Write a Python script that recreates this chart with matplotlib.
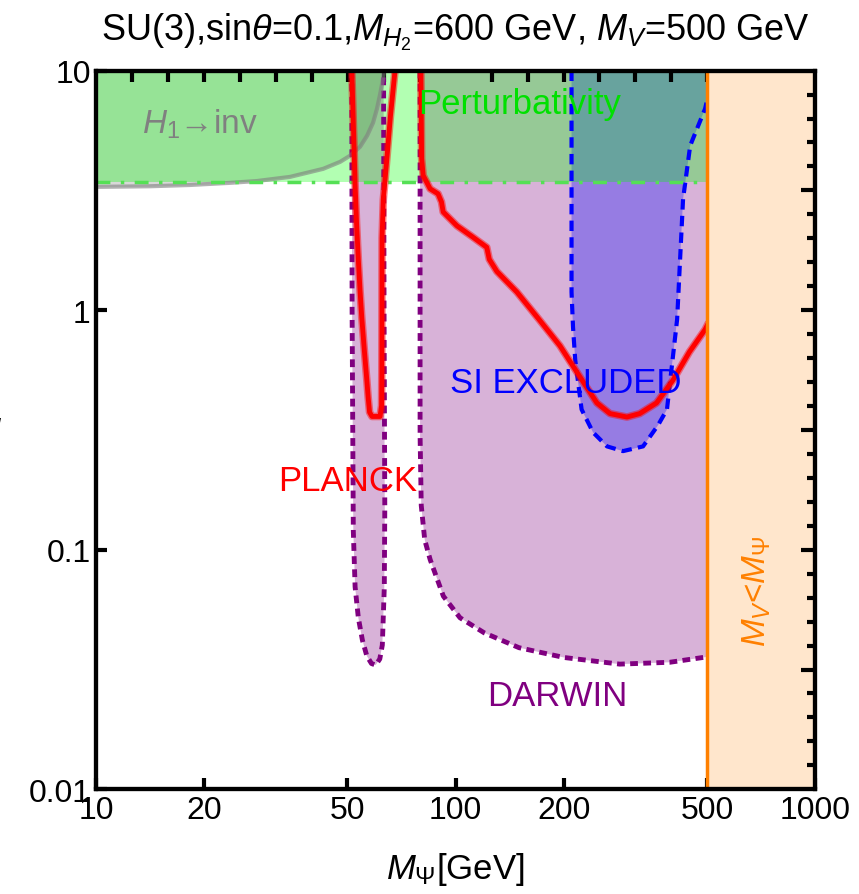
import numpy as np
import matplotlib.pyplot as plt
from matplotlib.ticker import FixedLocator, NullFormatter, NullLocator

plt.rcParams['font.family'] = ['Liberation Sans', 'DejaVu Sans']
plt.rcParams['mathtext.fontset'] = 'custom'
plt.rcParams['mathtext.rm'] = 'Liberation Sans'
plt.rcParams['mathtext.it'] = 'Liberation Sans:italic'

# perturbativity bound
pert_y = 3.44

# H1 -> inv boundary
h1_x = [10, 14.1, 18.2, 23.6, 28, 34.6, 42.8, 47.7, 50.8, 54.2, 56.7, 58.9, 60.4, 61.6, 62.8, 63.2]
h1_y = [3.27, 3.29, 3.33, 3.40, 3.46, 3.60, 3.89, 4.16, 4.41, 4.81, 5.35, 6.06, 6.93, 7.94, 9.26, 10]

# DARWIN reach, narrow well near the Higgs pole
well_x = [51.4, 51.5, 51.9, 52.5, 53.6, 55.0, 56.6, 58.3, 59.9, 61.5, 62.5, 63.3, 63.5, 63.2, 63.0]
well_y = [10, 1.0, 0.12, 0.07, 0.052, 0.042, 0.036, 0.0335, 0.033, 0.035, 0.04, 0.07, 0.15, 1.0, 10]

# DARWIN reach, main region
darw_x = [79.6, 79.6, 80.2, 82.0, 84.9, 92.4, 102.8, 120, 150, 200, 286, 394, 500]
darw_y = [10, 0.3, 0.153, 0.11, 0.091, 0.064, 0.052, 0.045, 0.039, 0.0355, 0.0333, 0.0339, 0.0357]

# SI excluded region
si_x = [210, 210, 212, 215, 224, 241, 263.6, 292, 332, 365, 387, 413, 429, 449, 494, 500]
si_y = [10, 1.19, 0.85, 0.62, 0.385, 0.309, 0.27, 0.258, 0.27, 0.33, 0.385, 0.916, 2.91, 4.86, 6.93, 7.5]

# PLANCK relic density curves
r1_x = [51.4, 52.0, 52.5, 53.0, 53.6, 54.2, 54.8, 55.7, 56.6, 57.1, 57.6, 58.5, 61.6, 62.2, 62.3, 62.4, 62.9, 63.6, 64.6, 65.8, 67.8]
r1_y = [10, 5.5, 3.37, 2.3, 1.62, 1.2, 0.93, 0.68, 0.51, 0.43, 0.375, 0.36, 0.36, 0.4, 0.55, 2.0, 2.9, 3.5, 4.6, 6.4, 10]
r2_x = [80, 80.4, 81.2, 84.9, 89.3, 91.3, 92.3, 100.8, 111.5, 122, 124, 130.2, 148, 171, 195, 221, 247,
        268.7, 299.5, 325, 362, 402, 447, 494, 500]
r2_y = [10, 4.29, 3.65, 3.21, 3.06, 2.83, 2.57, 2.25, 2.02, 1.83, 1.63, 1.45, 1.19, 0.91, 0.71, 0.53, 0.41,
        0.37, 0.358, 0.37, 0.41, 0.51, 0.67, 0.83, 0.86]

mv = 500
x_ticks = [10, 20, 50, 100, 200, 500, 1000]
x_ticklabels = ['10', '20', '50', '100', '200', '500', '1000']
y_ticks = [0.01, 0.1, 1, 10]
y_ticklabels = ['0.01', '0.1', '1', '10']
top_ticks = [10 ** (1 + k / 10) for k in range(1, 20)]
right_ticks = [10 ** (-2 + k / 10) for k in range(1, 30)]

fig = plt.figure(figsize=(8.59, 8.95), dpi=100)
ax = fig.add_axes([0.112, 0.117, 0.837, 0.803])
ax.set_xscale('log')
ax.set_yscale('log')
ax.set_xlim(10, 1000)
ax.set_ylim(0.01, 10)

# DARWIN
ax.fill(well_x, well_y, color='purple', alpha=0.3, lw=0)
ax.plot(well_x, well_y, color='purple', lw=3.5, ls=(0, (1.6, 1.1)))
ax.fill(darw_x + [500], darw_y + [10], color='purple', alpha=0.3, lw=0)
ax.plot(darw_x, darw_y, color='purple', lw=3.5, ls=(0, (1.6, 1.1)))

# SI excluded
ax.fill(si_x + [500], si_y + [10], color='blue', alpha=0.3, lw=0)
ax.plot(si_x, si_y, color='blue', lw=3, ls=(0, (2.5, 1.5)))

# H1 -> inv
ax.fill_between(h1_x, h1_y, 10, color='gray', alpha=0.3, lw=0)
ax.plot(h1_x, h1_y, color='gray', alpha=0.6, lw=3, solid_joinstyle='round')

# perturbativity
ax.fill_between([10, 1000], pert_y, 10, color='#00ff00', alpha=0.3, lw=0)
ax.axhline(pert_y, color='#55e055', lw=2.5, ls=(0, (4, 3, 1, 3)))

# PLANCK
for rx, ry in ((r1_x, r1_y), (r2_x, r2_y)):
    ax.plot(rx, ry, color='red', lw=5.5, alpha=0.45, solid_joinstyle='round')
    ax.plot(rx, ry, color='red', lw=3.5, solid_joinstyle='round')

# M_V < M_Psi
ax.axvspan(mv, 1000, color='#ffe6cc', lw=0, zorder=2.2)
ax.axvline(mv, color='#ff8000', lw=2.5, zorder=2.3)

fs = 25
ax.text(13.4, 6.0, r'$H_1$→inv', color='gray', fontsize=fs - 1, va='center')
ax.text(78.5, 7.3, 'Perturbativity', color='#00e000', fontsize=fs, va='center')
ax.text(96.4, 0.5, 'SI EXCLUDED', color='blue', fontsize=fs, va='center')
ax.text(32, 0.194, 'PLANCK', color='red', fontsize=fs, va='center')
ax.text(122, 0.0247, 'DARWIN', color='purple', fontsize=fs, va='center')
ax.text(689, 0.068, r'$M_V$<$M_\Psi$', color='#ff8000', fontsize=fs - 1,
        rotation=90, ha='center', va='center', zorder=6)

ax.set_xticks(x_ticks)
ax.set_xticklabels(x_ticklabels)
ax.set_yticks(y_ticks)
ax.set_yticklabels(y_ticklabels)
ax.yaxis.set_minor_locator(NullLocator())
ax.tick_params(which='major', direction='in', length=8, width=3, labelsize=23, pad=4)

# top ticks every 0.1 decade, as minor ticks shown only on top
ax.xaxis.set_minor_locator(FixedLocator(top_ticks))
ax.xaxis.set_minor_formatter(NullFormatter())
ax.tick_params(axis='x', which='minor', bottom=False, top=True, direction='in',
               length=8, width=3, color='k')
for s in ax.spines.values():
    s.set_linewidth(3)

# right ticks
ty = ax.twinx()
ty.set_yscale('log')
ty.set_ylim(ax.get_ylim())
ty.yaxis.set_major_locator(FixedLocator([t for k, t in enumerate(right_ticks, 1) if k % 5 == 0]))
ty.yaxis.set_minor_locator(FixedLocator([t for k, t in enumerate(right_ticks, 1) if k % 5 != 0]))
ty.yaxis.set_major_formatter(NullFormatter())
ty.yaxis.set_minor_formatter(NullFormatter())
ty.tick_params(which='major', direction='in', length=10, width=3, color='k')
ty.tick_params(which='minor', direction='in', length=6, width=3, color='k')
for s in ty.spines.values():
    s.set_linewidth(3)

ax.set_xlabel(r'$M_\Psi$[GeV]', fontsize=fs, labelpad=18)
ax.set_title(r'SU(3),sin$\theta$=0.1,$M_{H_2}$=600 GeV, $M_V$=500 GeV', fontsize=26, pad=22)
fig.text(-0.022, 0.52, r'$g$', fontsize=fs, va='center')

fig.savefig('out.png', dpi=100)
